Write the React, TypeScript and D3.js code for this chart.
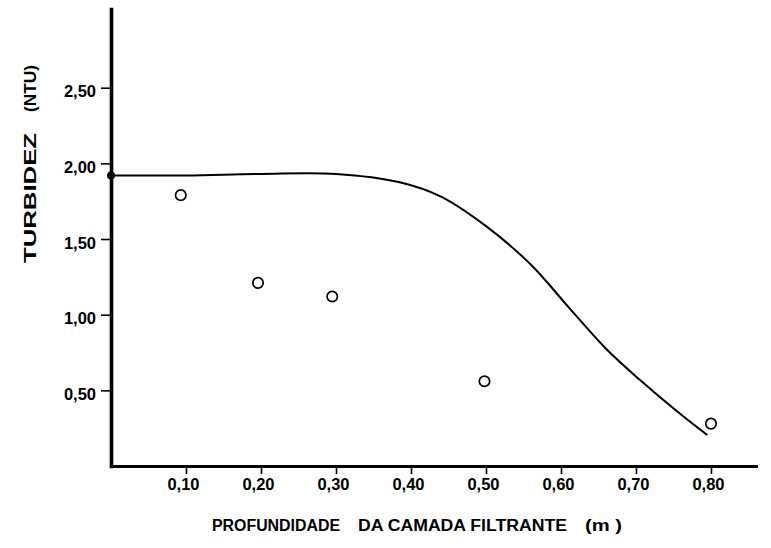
import { useEffect, useRef } from "react";
import * as d3 from "d3";

// fitted curve (depth in m, turbidity in NTU)
const curveDepth = [0, 0.1, 0.2, 0.3, 0.385, 0.44, 0.5, 0.56, 0.61, 0.66, 0.705, 0.76, 0.795];
const curveTurb = [1.92, 1.92, 1.93, 1.93, 1.875, 1.78, 1.585, 1.33, 1.05, 0.775, 0.57, 0.34, 0.205];

// observed points
const obsDepth = [0.093, 0.196, 0.295, 0.498, 0.8];
const obsTurb = [1.79, 1.21, 1.12, 0.56, 0.28];

const xTicks = [0.1, 0.2, 0.3, 0.4, 0.5, 0.6, 0.7, 0.8];
const yTicks = [0.5, 1.0, 1.5, 2.0, 2.5];

const W = 771,
  H = 548;
const FONT = "'Liberation Sans', Arial, sans-serif";

export default function App() {
  const ref = useRef<SVGSVGElement>(null);

  useEffect(() => {
    document.body.style.margin = "0";
    const svg = d3.select(ref.current!);
    svg.selectAll("*").remove();

    const x = d3.scaleLinear().domain([0, 0.86]).range([111, 756]);
    const y = d3.scaleLinear().domain([0, 3.02]).range([466, 9]);
    const fmt = (v: d3.NumberValue) => d3.format(".2f")(+v).replace(".", ",");

    const gx = svg
      .append("g")
      .attr("transform", `translate(0,${y(0)})`)
      .call(d3.axisBottom(x).tickValues(xTicks).tickFormat(fmt).tickSize(8).tickSizeOuter(0).tickPadding(4));
    gx.select(".domain").attr("stroke-width", 3.2).attr("stroke", "#000").attr("stroke-linecap", "square");
    gx.selectAll(".tick line").attr("stroke-width", 1.6).attr("stroke", "#000");
    gx.selectAll(".tick text")
      .attr("font-family", FONT)
      .attr("font-size", 16.5)
      .attr("font-weight", "bold")
      .attr("fill", "#000")
      .attr("dx", -3);

    const gy = svg
      .append("g")
      .attr("transform", `translate(${x(0)},0)`)
      .call(d3.axisLeft(y).tickValues(yTicks).tickFormat(fmt).tickSize(10).tickSizeOuter(0).tickPadding(5));
    gy.select(".domain").attr("stroke-width", 3.6).attr("stroke", "#000").attr("stroke-linecap", "square");
    gy.selectAll(".tick line").attr("stroke-width", 1.6).attr("stroke", "#000");
    gy.selectAll(".tick text")
      .attr("font-family", FONT)
      .attr("font-size", 16.5)
      .attr("font-weight", "bold")
      .attr("fill", "#000")
      .attr("dy", "0.55em");

    const curve = curveDepth.map((d, i) => [d, curveTurb[i]] as [number, number]);
    const line = d3
      .line<[number, number]>()
      .x((d) => x(d[0]))
      .y((d) => y(d[1]))
      .curve(d3.curveCatmullRom.alpha(0.5));

    svg
      .append("path")
      .attr("d", line(curve)!)
      .attr("fill", "none")
      .attr("stroke", "#000")
      .attr("stroke-width", 2);

    svg
      .append("circle")
      .attr("cx", x(curveDepth[0]))
      .attr("cy", y(curveTurb[0]))
      .attr("r", 4)
      .attr("fill", "#000");

    svg
      .append("g")
      .selectAll("circle")
      .data(obsDepth.map((d, i) => [d, obsTurb[i]]))
      .join("circle")
      .attr("cx", (d) => x(d[0]))
      .attr("cy", (d) => y(d[1]))
      .attr("r", 5.2)
      .attr("fill", "#fff")
      .attr("stroke", "#000")
      .attr("stroke-width", 1.7);

    // x title
    const xt = [
      { t: "PROFUNDIDADE", x0: 212, len: 128 },
      { t: "DA CAMADA FILTRANTE", x0: 358, len: 209 },
      { t: "(m )", x0: 585, len: 37 },
    ];
    svg
      .append("g")
      .selectAll("text")
      .data(xt)
      .join("text")
      .attr("x", (d) => d.x0)
      .attr("y", 531)
      .attr("textLength", (d) => d.len)
      .attr("lengthAdjust", "spacingAndGlyphs")
      .attr("font-family", FONT)
      .attr("font-size", 16)
      .attr("font-weight", "bold")
      .text((d) => d.t);

    // y title (rotated)
    const yt = [
      { t: "TURBIDEZ", y0: 263, len: 130 },
      { t: "(NTU)", y0: 112, len: 47 },
    ];
    svg
      .append("g")
      .selectAll("text")
      .data(yt)
      .join("text")
      .attr("transform", (d) => `translate(36,${d.y0}) rotate(-90)`)
      .attr("textLength", (d) => d.len)
      .attr("lengthAdjust", "spacingAndGlyphs")
      .attr("font-family", FONT)
      .attr("font-size", 16)
      .attr("font-weight", "bold")
      .text((d) => d.t);
  }, []);

  return <svg ref={ref} width={W} height={H} style={{ display: "block", background: "#fff" }} />;
}
